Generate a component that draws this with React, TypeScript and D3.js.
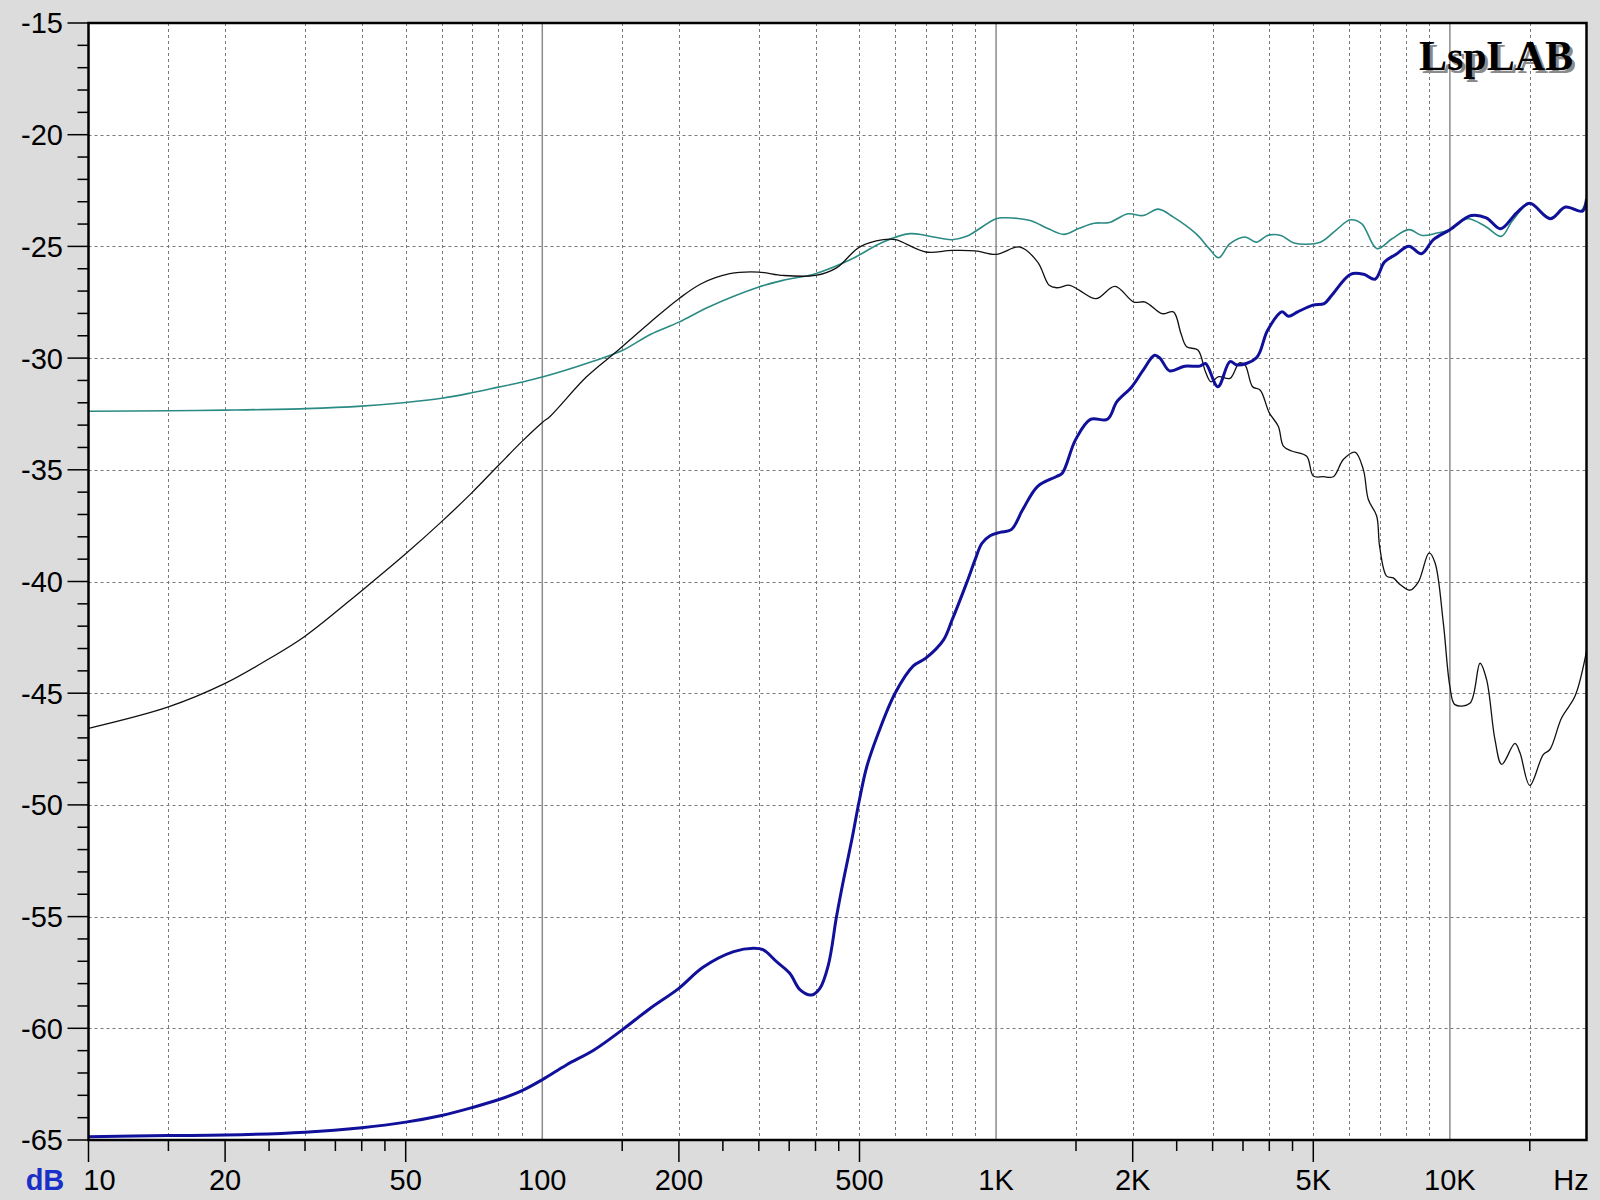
import React from 'react';
import * as d3 from 'd3';

// frequency response readings, [Hz, dB]
const tealCurve: [number, number][] = [
  [10, -32.38], [15, -32.36], [20, -32.33], [30, -32.26], [40, -32.15], [50, -31.99],
  [60, -31.8], [70, -31.55], [80, -31.3], [90, -31.08], [100, -30.85], [126, -30.22],
  [150, -29.66], [173, -28.94], [200, -28.39], [234, -27.69], [300, -26.82], [339, -26.52],
  [400, -26.22], [477, -25.6], [564, -24.8], [646, -24.43], [700, -24.51], [800, -24.7],
  [861, -24.55], [1000, -23.76], [1050, -23.72], [1189, -23.84], [1300, -24.2], [1411, -24.46],
  [1520, -24.2], [1645, -23.96], [1776, -23.93], [1953, -23.54], [2109, -23.62], [2278, -23.33],
  [2459, -23.69], [2757, -24.43], [2949, -25.1], [3093, -25.51], [3276, -24.88], [3537, -24.58],
  [3745, -24.81], [3966, -24.51], [4241, -24.51], [4534, -24.85], [5184, -24.81], [5597, -24.29],
  [6040, -23.81], [6397, -23.99], [6907, -25.1], [7454, -24.66], [8124, -24.25], [8686, -24.51],
  [9377, -24.4], [10000, -24.25], [10930, -23.76], [12030, -24.13], [12980, -24.55], [13745, -23.84],
  [15000, -23.09], [16645, -23.72], [17970, -23.24], [19400, -23.42], [20000, -22.87],
];

const blackCurve: [number, number][] = [
  [10, -46.57], [15, -45.61], [20, -44.56], [25, -43.46], [30, -42.45], [40, -40.41],
  [50, -38.76], [60, -37.32], [70, -36.02], [80, -34.81], [90, -33.75], [100, -32.88],
  [104, -32.61], [125, -30.85], [146, -29.69], [173, -28.39], [200, -27.34], [224, -26.67],
  [259, -26.22], [300, -26.15], [339, -26.3], [400, -26.3], [445, -25.96], [500, -25.03],
  [564, -24.7], [600, -24.7], [700, -25.25], [800, -25.18], [900, -25.2], [1000, -25.36],
  [1129, -25.03], [1235, -25.7], [1309, -26.74], [1359, -26.85], [1453, -26.74], [1524, -26.96],
  [1661, -27.34], [1828, -26.79], [2011, -27.49], [2131, -27.49], [2322, -28.01], [2459, -27.93],
  [2555, -28.9], [2629, -29.49], [2784, -29.64], [2893, -30.61], [2976, -31.06], [3093, -30.83],
  [3276, -30.91], [3436, -30.21], [3537, -30.31], [3674, -31.28], [3817, -31.43], [4000, -32.45],
  [4188, -33.06], [4296, -33.94], [4480, -34.16], [4835, -34.39], [5000, -35.28], [5262, -35.31],
  [5536, -35.31], [5823, -34.54], [6178, -34.21], [6446, -34.99], [6611, -36.33], [6896, -37.07],
  [7000, -38.42], [7255, -39.76], [7504, -39.84], [7762, -40.13], [8166, -40.39], [8519, -40.03],
  [9000, -38.72], [9273, -39.16], [9672, -41.85], [10000, -44.7], [10260, -45.51], [11070, -45.45],
  [11650, -43.66], [12050, -44.4], [12570, -47.08], [13010, -48.19], [13910, -47.25], [14270, -47.67],
  [15000, -49.13], [16060, -47.75], [16610, -47.52], [17630, -46.1], [18870, -45.13], [20000, -43.12],
];

const blueCurve: [number, number][] = [
  [10, -64.85], [15, -64.8], [20, -64.78], [30, -64.65], [40, -64.45], [50, -64.2],
  [60, -63.9], [70, -63.55], [80, -63.2], [90, -62.8], [100, -62.3], [113, -61.64],
  [130, -60.97], [150, -60.07], [173, -59.1], [200, -58.21], [226, -57.27], [264, -56.57],
  [292, -56.42], [307, -56.49], [328, -57.01], [351, -57.54], [370, -58.28], [392, -58.51],
  [409, -58.21], [427, -57.16], [445, -55.0], [461, -53.36], [481, -51.55], [500, -49.76],
  [519, -48.28], [550, -46.79], [599, -45.0], [657, -43.78], [700, -43.43], [766, -42.61],
  [800, -41.72], [862, -40.04], [900, -39.0], [930, -38.3], [970, -37.95], [1020, -37.8],
  [1080, -37.68], [1144, -36.79], [1235, -35.74], [1359, -35.3], [1399, -35.15], [1496, -33.66],
  [1614, -32.74], [1759, -32.74], [1846, -31.95], [1992, -31.28], [2109, -30.54], [2234, -29.87],
  [2299, -30.01], [2412, -30.57], [2604, -30.36], [2810, -30.36], [2893, -30.24], [3082, -31.28],
  [3276, -30.16], [3404, -30.31], [3745, -29.99], [3966, -28.75], [4266, -27.93], [4407, -28.13],
  [4620, -27.93], [4991, -27.63], [5284, -27.56], [5491, -27.19], [6040, -26.25], [6459, -26.25],
  [6841, -26.47], [7175, -25.7], [7598, -25.36], [8124, -24.99], [8654, -25.33], [9199, -24.7],
  [10000, -24.25], [11140, -23.62], [12030, -23.72], [12930, -24.21], [14010, -23.51], [15000, -23.07],
  [16645, -23.76], [17970, -23.24], [19590, -23.42], [20000, -22.87],
];

const yMajor = [-15, -20, -25, -30, -35, -40, -45, -50, -55, -60, -65];
const xLabels: [number, string][] = [
  [10, '10'], [20, '20'], [50, '50'], [100, '100'], [200, '200'], [500, '500'],
  [1000, '1K'], [2000, '2K'], [5000, '5K'], [10000, '10K'],
];
const decades = [10, 100, 1000, 10000];
const gridMults = [1.5, 2, 3, 4, 5, 6, 7, 8, 9];
const tickMults = [1.5, 2, 2.5, 3, 3.5, 4, 4.5, 5];

const W = 1600;
const H = 1200;
const left = 88.5, right = 1586.5, top = 23, bottom = 1140;
const font = 'Arial, "Liberation Sans", sans-serif';

const App = () => {
  const x = d3.scaleLog().domain([10, 20000]).range([left, right]);
  const y = d3.scaleLinear().domain([-65, -15]).range([bottom, top]);

  const line = d3.line<[number, number]>()
    .x(d => x(d[0]))
    .y(d => y(d[1]))
    .curve(d3.curveCatmullRom.alpha(0.5));

  const gridF = decades.flatMap(d => gridMults.map(m => d * m)).filter(f => f < 20000);
  const tickF = decades.flatMap(d => tickMults.map(m => d * m)).filter(f => f < 20000);
  const longTick = new Set([10, 20, 50, 100, 200, 500, 1000, 2000, 5000, 10000]);
  const minorDb = d3.range(-65, -14, 1);

  return (
    <div style={{ position: 'absolute', left: 0, top: 0 }}>
      <svg width={W} height={H} style={{ display: 'block' }}>
        <defs>
          <clipPath id="plot">
            <rect x={left} y={top} width={right - left} height={bottom - top} />
          </clipPath>
        </defs>
        <rect x={0} y={0} width={W} height={H} fill="#dcdcdc" />
        <rect x={left} y={top} width={right - left} height={bottom - top} fill="#ffffff" />

        {/* grid */}
        <g stroke="#7a7a7a" strokeWidth={1} strokeDasharray="3,3" fill="none">
          {yMajor.slice(1, -1).map(v => (
            <line key={'h' + v} x1={left} x2={right} y1={Math.round(y(v)) + 0.5} y2={Math.round(y(v)) + 0.5} />
          ))}
          {gridF.map(f => (
            <line key={'v' + f} x1={Math.round(x(f)) + 0.5} x2={Math.round(x(f)) + 0.5} y1={top} y2={bottom} />
          ))}
        </g>
        <g stroke="#8c8c8c" strokeWidth={1.5}>
          {decades.slice(1).map(f => (
            <line key={'d' + f} x1={x(f)} x2={x(f)} y1={top} y2={bottom} />
          ))}
        </g>

        {/* curves */}
        <g clipPath="url(#plot)" fill="none" strokeLinejoin="round">
          <path d={line(tealCurve) || ''} stroke="#2a8a84" strokeWidth={1.6} />
          <path d={line(blackCurve) || ''} stroke="#111111" strokeWidth={1.3} />
          <path d={line(blueCurve) || ''} stroke="#10109a" strokeWidth={3} />
        </g>

        {/* frame */}
        <rect x={left} y={top} width={right - left} height={bottom - top} fill="none" stroke="#000" strokeWidth={2.5} />

        {/* y axis */}
        <g stroke="#000" strokeWidth={1.5}>
          {minorDb.map(v => (
            <line key={'yt' + v} x1={v % 5 === 0 ? left - 21 : left - 11} x2={left} y1={y(v)} y2={y(v)} />
          ))}
        </g>
        <g fontFamily={font} fontSize={29} fill="#000" textAnchor="end">
          {yMajor.map(v => (
            <text key={'yl' + v} x={63} y={y(v)} dy="0.36em">{v}</text>
          ))}
        </g>

        {/* x axis */}
        <g stroke="#000" strokeWidth={1.5}>
          {[10, ...tickF].map(f => (
            <line key={'xt' + f} x1={x(f)} x2={x(f)} y1={bottom} y2={bottom + (longTick.has(f) ? 22 : 11)} />
          ))}
        </g>
        <g fontFamily={font} fontSize={29} fill="#000" textAnchor="middle">
          {xLabels.map(([f, t]) => (
            <text key={'xl' + f} x={f === 10 ? x(f) + 11 : x(f)} y={1190}>{t}</text>
          ))}
          <text x={1571} y={1190}>Hz</text>
        </g>
        <text x={45} y={1190} textAnchor="middle" fontFamily={font} fontSize={29} fontWeight="bold" fill="#1a2fc8">dB</text>

        {/* logo */}
        <g fontFamily='"Liberation Serif", "Times New Roman", serif' fontSize={42} fontWeight="bold" textAnchor="end">
          <text x={1576} y={73} fill="#8a8a8a">LspLAB</text>
          <text x={1573} y={70} fill="#000">LspLAB</text>
        </g>
      </svg>
    </div>
  );
};

export default App;
